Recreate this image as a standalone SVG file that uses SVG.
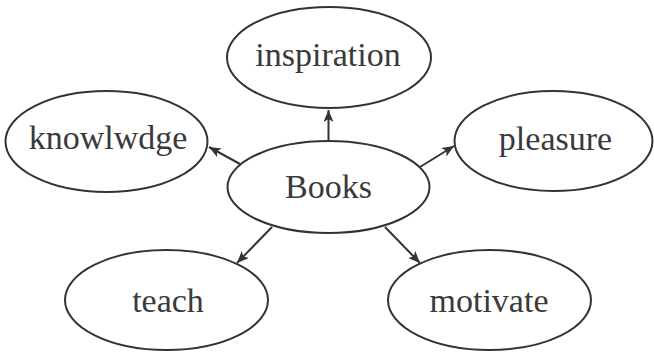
<svg xmlns="http://www.w3.org/2000/svg" width="654" height="354" viewBox="0 0 654 354">
<defs>
<style>
.n{fill:#fff;stroke:#333;stroke-width:2}
.t{font-family:"Liberation Serif","Times New Roman",serif;font-size:34px;fill:#3a3a3a;text-anchor:middle}
.c{stroke:#333;stroke-width:2;fill:none;marker-end:url(#ah)}
</style>
<marker id="ah" viewBox="0 0 12 10" markerWidth="12" markerHeight="10" refX="12" refY="5" orient="auto" markerUnits="userSpaceOnUse">
<path d="M0,0 L12,5 L0,10 L3,5 z" fill="#333"/>
</marker>
</defs>
<rect width="654" height="354" fill="#fff"/>
<g id="connectors">
<line class="c" x1="328.5" y1="141" x2="328.5" y2="110"/>
<line class="c" x1="240" y1="164" x2="209" y2="147"/>
<line class="c" x1="420" y1="167" x2="454" y2="146"/>
<line class="c" x1="272" y1="227" x2="237" y2="263"/>
<line class="c" x1="385" y1="227" x2="420" y2="263"/>
</g>
<g id="inspiration"><ellipse class="n" cx="329" cy="57.5" rx="102" ry="50.5"/><text class="t" x="328" y="66">inspiration</text></g>
<g id="knowlwdge"><ellipse class="n" cx="106.5" cy="141.5" rx="101" ry="50.5"/><text class="t" x="108" y="149">knowlwdge</text></g>
<g id="pleasure"><ellipse class="n" cx="553.5" cy="141" rx="99" ry="50"/><text class="t" x="555.5" y="150">pleasure</text></g>
<g id="books"><ellipse class="n" cx="328.5" cy="187" rx="101" ry="46"/><text class="t" x="328.5" y="198">Books</text></g>
<g id="teach"><ellipse class="n" cx="166.5" cy="300" rx="101.5" ry="50"/><text class="t" x="168" y="312">teach</text></g>
<g id="motivate"><ellipse class="n" cx="489.5" cy="300" rx="101.5" ry="50"/><text class="t" x="489" y="312">motivate</text></g>
</svg>
